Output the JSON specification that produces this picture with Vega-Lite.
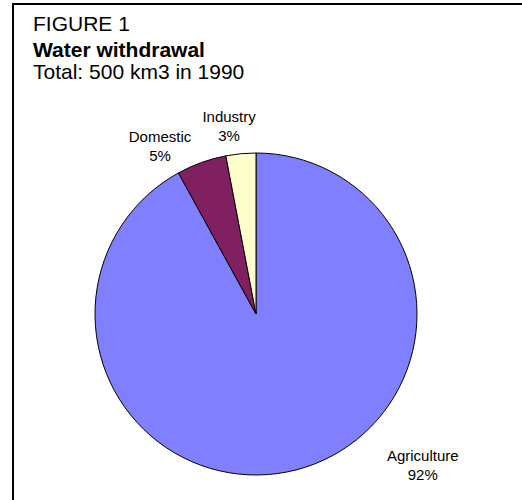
{
  "$schema": "https://vega.github.io/schema/vega-lite/v6.json",
  "autosize": {"type": "pad"},
  "padding": {"left": 12, "top": 3, "right": -12, "bottom": -15},
  "background": "white",
  "title": {
    "text": "FIGURE 1",
    "anchor": "start",
    "frame": "group",
    "dx": 20,
    "offset": -32,
    "fontSize": 21,
    "fontWeight": "normal",
    "font": "Liberation Sans",
    "color": "black"
  },
  "vconcat": [
    {
      "width": 520,
      "height": 510,
      "view": {"stroke": "black", "strokeWidth": 2, "fill": "white"},
      "title": {
        "text": "Water withdrawal",
        "subtitle": "Total: 500 km3 in 1990",
        "anchor": "start",
        "frame": "group",
        "dx": 20,
        "offset": -79,
        "fontSize": 21,
        "fontWeight": "bold",
        "font": "Liberation Sans",
        "color": "black",
        "subtitleFont": "Liberation Sans",
        "subtitleFontSize": 21,
        "subtitleFontWeight": "normal",
        "subtitleColor": "black",
        "subtitlePadding": 1
      },
      "data": {
        "values": [
          {"category": "Agriculture", "share": 92},
          {"category": "Domestic", "share": 5},
          {"category": "Industry", "share": 3}
        ]
      },
      "layer": [
        {
          "mark": {"type": "arc", "outerRadius": 161, "x": 243, "y": 310, "stroke": "black", "strokeWidth": 1},
          "encoding": {
            "theta": {"field": "share", "type": "quantitative", "stack": true},
            "order": {"field": "share", "sort": "descending"},
            "color": {
              "field": "category",
              "type": "nominal",
              "scale": {"domain": ["Agriculture", "Domestic", "Industry"], "range": ["#8080FF", "#802060", "#FFFFCC"]},
              "legend": null
            }
          }
        },
        {
          "transform": [{"calculate": "datum.category + '\\n' + datum.share + '%'", "as": "label"}],
          "mark": {
            "type": "text",
            "x": 243,
            "y": 310,
            "radius": 180,
            "font": "Liberation Sans",
            "fontSize": 15,
            "lineHeight": 19,
            "lineBreak": "\n",
            "baseline": "alphabetic",
            "align": "center",
            "color": "black",
            "dx": {"expr": "datum.category === 'Agriculture' ? 122 : datum.category === 'Domestic' ? -35 : -10"},
            "dy": {"expr": "datum.category === 'Agriculture' ? -27 : datum.category === 'Domestic' ? -3 : -13"}
          },
          "encoding": {
            "theta": {"field": "share", "type": "quantitative", "stack": true},
            "order": {"field": "share", "sort": "descending"},
            "detail": {"field": "category", "type": "nominal"},
            "text": {"field": "label", "type": "nominal"}
          }
        }
      ]
    }
  ]
}
